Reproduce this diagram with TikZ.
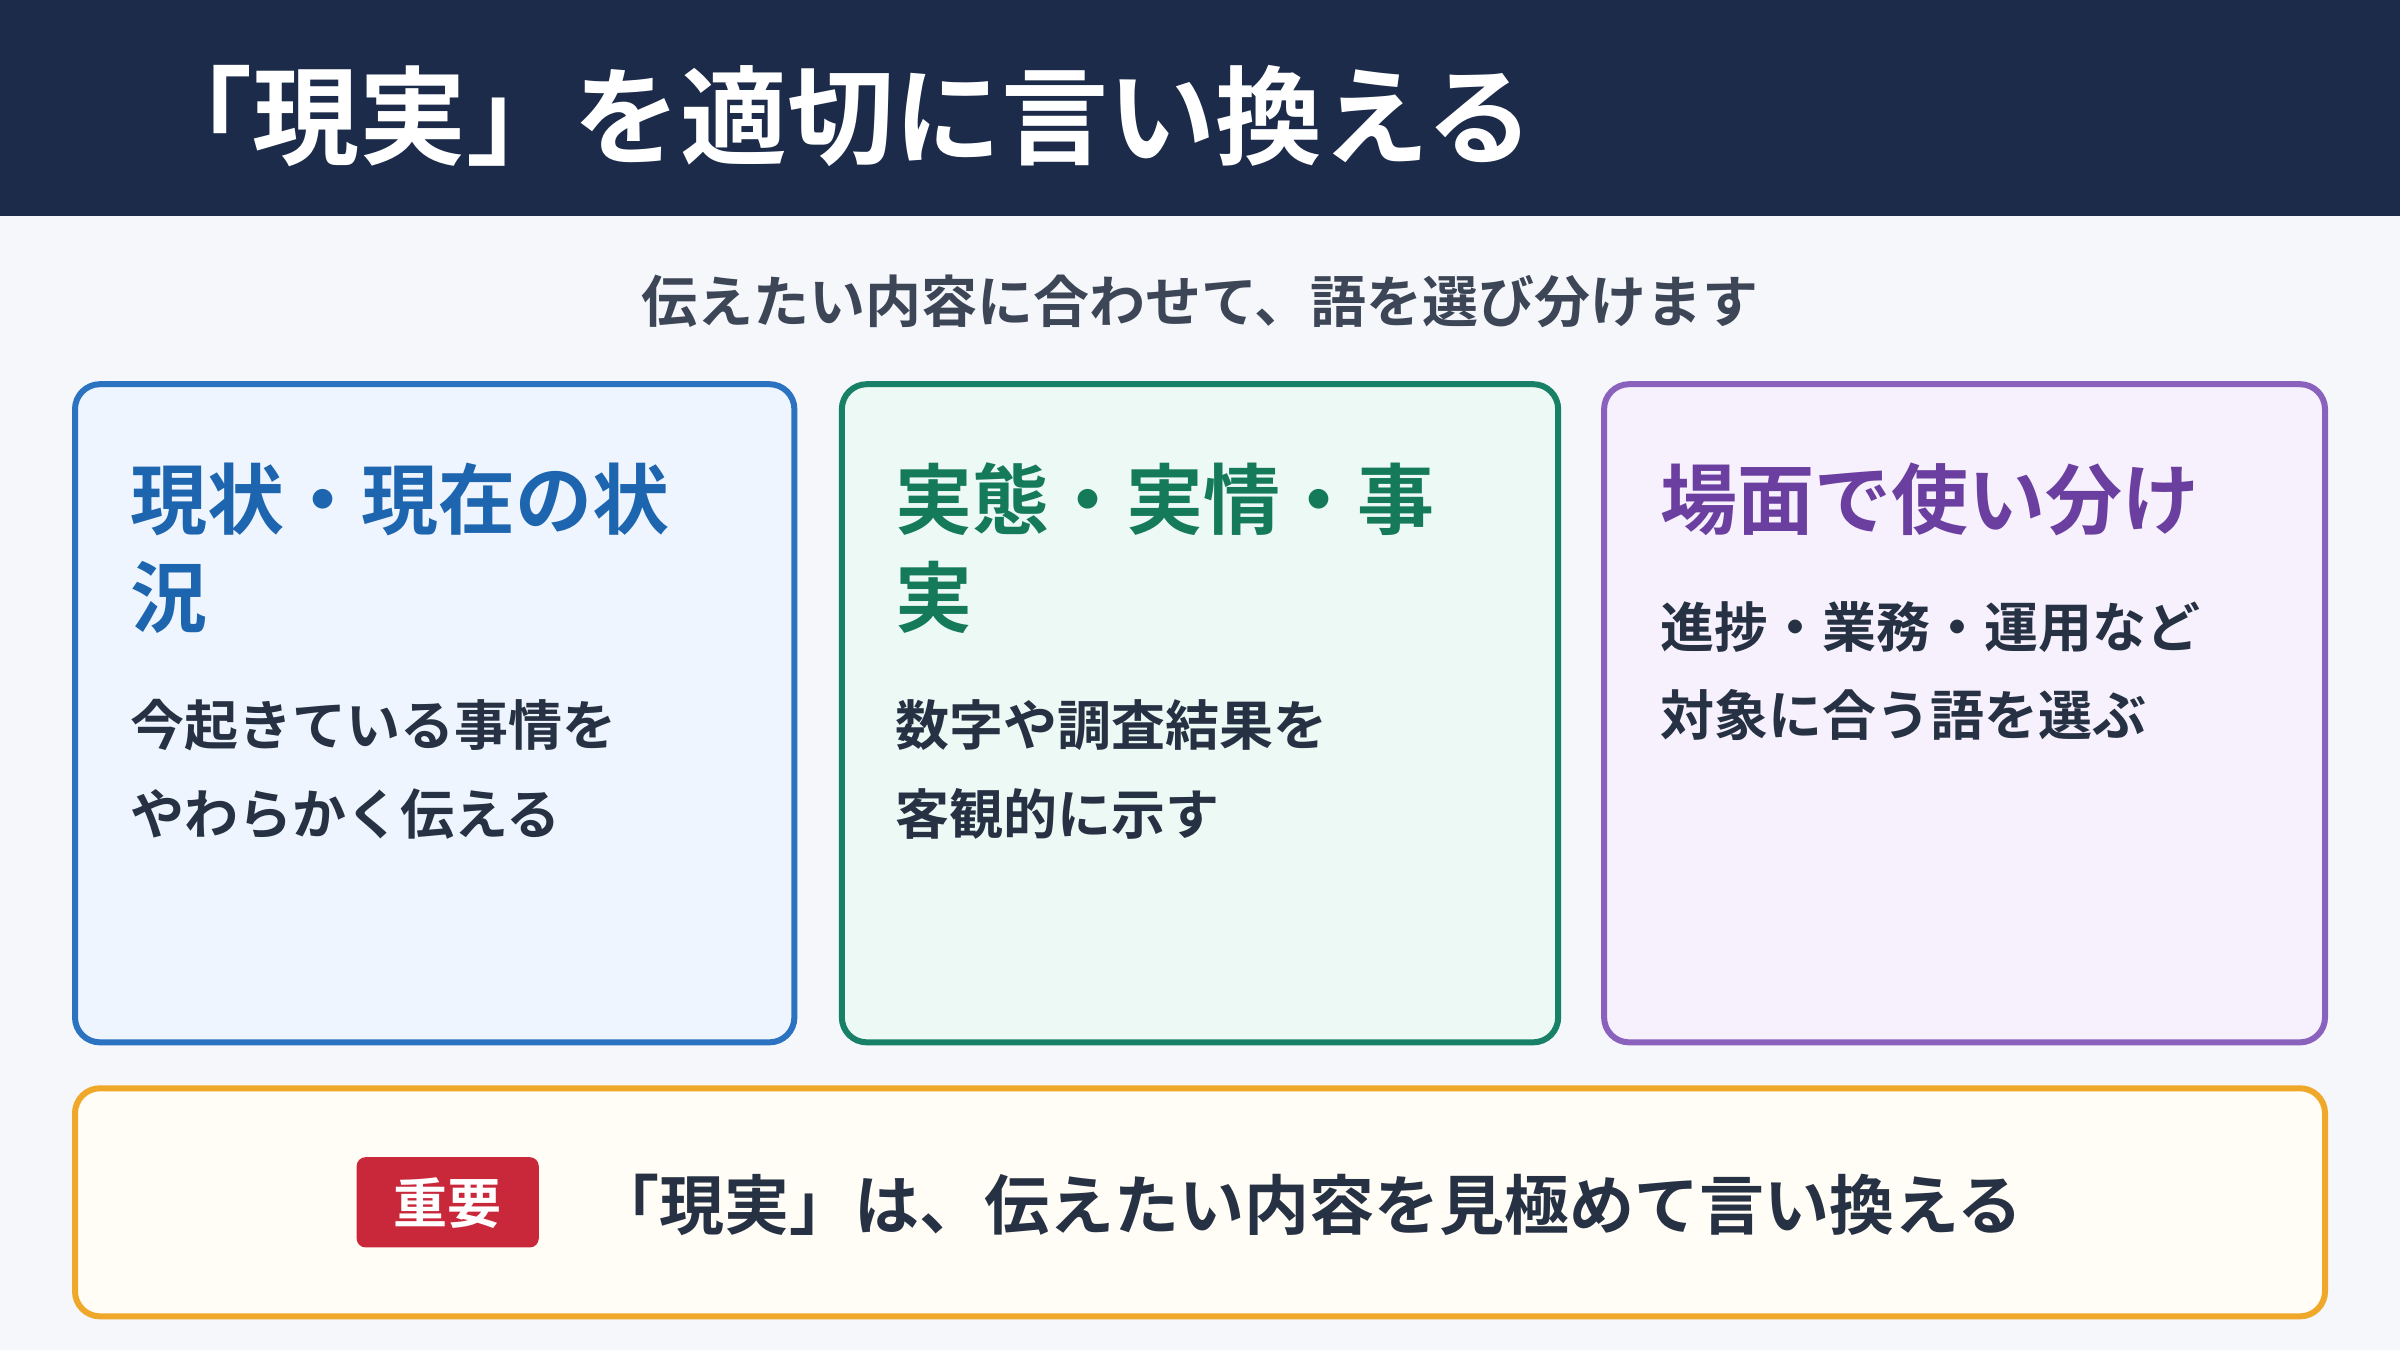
\documentclass[tikz,border=0pt]{standalone}
\usepackage{fontspec}
\setmainfont{Noto Sans CJK JP}[BoldFont={Noto Sans CJK JP Bold}]
\begin{document}
\begin{tikzpicture}[x=1.5306pt,y=-1.5306pt,
  fs/.style={font=\fontsize{#1}{#1}\selectfont\bfseries},
  card/.style={rounded corners=25pt,line width=6pt},
  txt/.style={anchor=west,inner sep=0pt}]
\definecolor{navy}{HTML}{1C2B4A}
\definecolor{bg}{HTML}{F5F7FB}
\definecolor{sub}{HTML}{3D4656}
\definecolor{dark}{HTML}{263143}
\definecolor{bB}{HTML}{2B73C0}\definecolor{bF}{HTML}{EEF5FE}\definecolor{bT}{HTML}{1E65B0}
\definecolor{gB}{HTML}{178066}\definecolor{gF}{HTML}{EDF9F4}\definecolor{gT}{HTML}{147A5A}
\definecolor{pB}{HTML}{8A62BE}\definecolor{pF}{HTML}{F6F1FD}\definecolor{pT}{HTML}{6B3FA0}
\definecolor{oB}{HTML}{F0A82A}\definecolor{oF}{HTML}{FFFDF5}
\definecolor{red}{HTML}{C8283A}
\useasboundingbox (0,0) rectangle (1568,882);
\fill[bg] (0,0) rectangle (1568,882);
\fill[navy] (0,0) rectangle (1568,141);
\node[txt,fs=107pt,text=white] (title) at (95,76) {「現実」を適切に言い換える};
\node[fs=56pt,text=sub] (sub) at (784,197) {伝えたい内容に合わせて、語を選び分けます};
% cards
\draw[card,draw=bB,fill=bF] (49,251) rectangle (519,681);
\draw[card,draw=gB,fill=gF] (550,251) rectangle (1018,681);
\draw[card,draw=pB,fill=pF] (1048,251) rectangle (1519,681);
\node[txt,fs=77pt,text=bT] (h1a) at (85,326) {現状・現在の状};
\node[txt,fs=77pt,text=bT] (h1b) at (85,390) {況};
\node[txt,fs=54pt,text=dark] (b1a) at (85,474) {今起きている事情を};
\node[txt,fs=54pt,text=dark] (b1b) at (85,532) {やわらかく伝える};
\node[txt,fs=77pt,text=gT] (h2a) at (585,326) {実態・実情・事};
\node[txt,fs=77pt,text=gT] (h2b) at (585,390) {実};
\node[txt,fs=54pt,text=dark] (b2a) at (585,474) {数字や調査結果を};
\node[txt,fs=54pt,text=dark] (b2b) at (585,532) {客観的に示す};
\node[txt,fs=77pt,text=pT] (h3) at (1085,326) {場面で使い分け};
\node[txt,fs=54pt,text=dark] (b3a) at (1085,410) {進捗・業務・運用など};
\node[txt,fs=54pt,text=dark] (b3b) at (1085,467) {対象に合う語を選ぶ};
% bottom
\draw[card,draw=oB,fill=oF] (49,711) rectangle (1519,860);
\fill[red,rounded corners=9pt] (233,756) rectangle (352,815);
\node[fs=54pt,text=white] (badge) at (292.5,786) {重要};
\node[txt,fs=65pt,text=dark] (msg) at (388,787) {「現実」は、伝えたい内容を見極めて言い換える};
\end{tikzpicture}
\end{document}
